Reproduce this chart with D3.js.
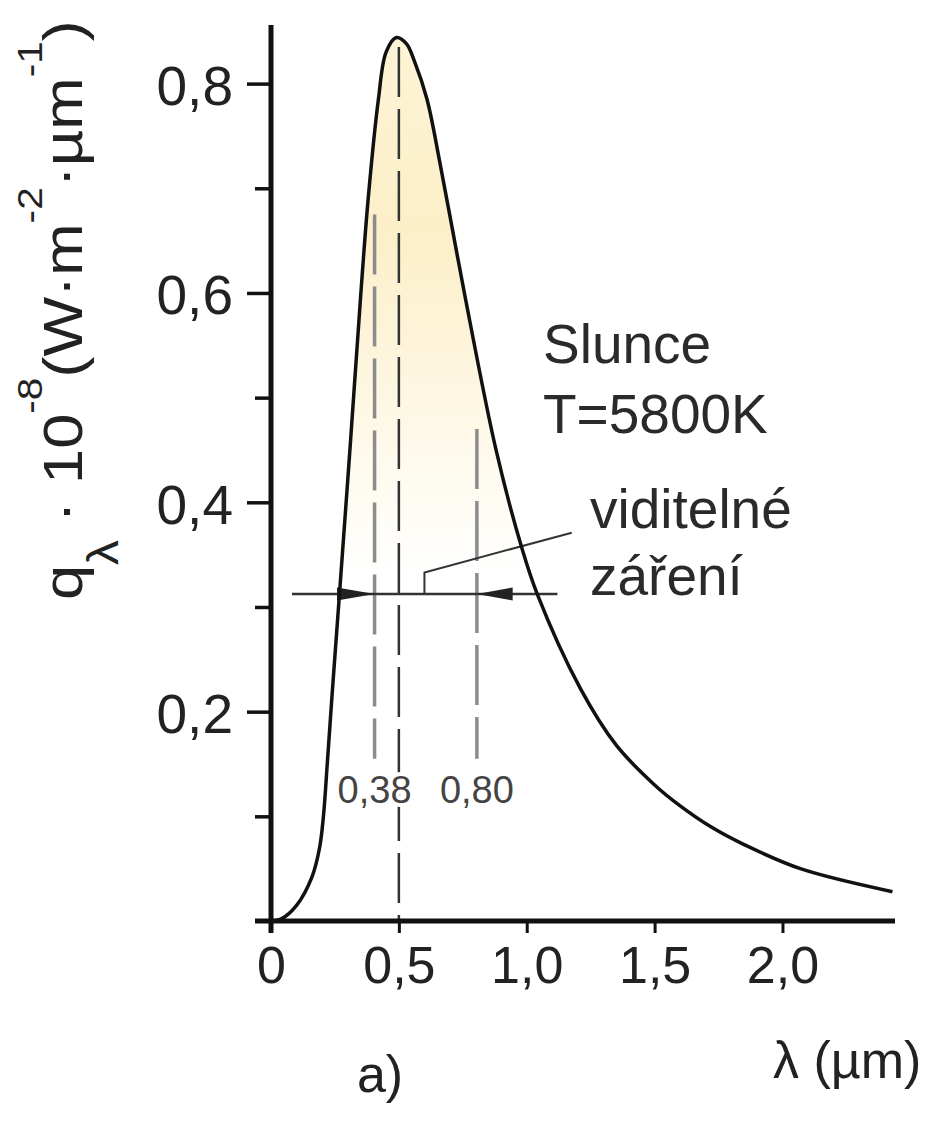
<!DOCTYPE html>
<html>
<head>
<meta charset="utf-8">
<script src="https://cdn.jsdelivr.net/npm/d3@7"></script>
<style>
  body { margin: 0; background: #fff; }
  text { font-family: "Liberation Sans", Arial, sans-serif; }
</style>
</head>
<body>
<div id="chart-area"></div>
<script>
// Spectrum of the Sun (T = 5800 K)
const lambdaUm = [0, 0.04, 0.10, 0.16, 0.19, 0.205, 0.22, 0.24, 0.27, 0.31, 0.35, 0.38, 0.42, 0.45,
                  0.49, 0.53, 0.56, 0.61, 0.66, 0.71, 0.76, 0.88, 0.98, 1.04, 1.21, 1.35, 1.50, 1.60,
                  1.72, 1.85, 2.07, 2.43];
const qLambda  = [0, 0.002, 0.015, 0.042, 0.07, 0.10, 0.15, 0.22, 0.32, 0.455, 0.595, 0.69, 0.785, 0.83,
                  0.844, 0.838, 0.822, 0.785, 0.725, 0.66, 0.595, 0.45, 0.357, 0.313, 0.222, 0.168, 0.13, 0.11,
                  0.09, 0.073, 0.050, 0.028];

const xTicks = [0, 0.5, 1.0, 1.5, 2.0];
const xTickLabels = ["0", "0,5", "1,0", "1,5", "2,0"];
const yTicks = [0.1, 0.2, 0.3, 0.4, 0.5, 0.6, 0.7, 0.8];
const yTickLabels = ["", "0,2", "", "0,4", "", "0,6", "", "0,8"];

// visible range markers (drawn position, label)
const visibleAt = [0.405, 0.805];
const visibleLabels = ["0,38", "0,80"];
const peakLambda = 0.5;
const bracketQ = 0.3125;

const width = 942, height = 1122;

const svg = d3.select("#chart-area")
  .append("svg")
    .attr("width", width)
    .attr("height", height);

const x = d3.scaleLinear().domain([0, 2.44]).range([271, 895]);
const y = d3.scaleLinear().domain([0, 0.856]).range([921, 25]);

const data = lambdaUm.map((l, i) => ({ l: l, q: qLambda[i] }));

// pale yellow fill fading downwards
const grad = svg.append("defs").append("linearGradient")
  .attr("id", "sunFill")
  .attr("gradientUnits", "userSpaceOnUse")
  .attr("x1", 0).attr("x2", 0)
  .attr("y1", y(0.84)).attr("y2", y(0.33));
grad.append("stop").attr("offset", 0).attr("stop-color", "#fdf4d6");
grad.append("stop").attr("offset", 0.35).attr("stop-color", "#fcefc8");
grad.append("stop").attr("offset", 1).attr("stop-color", "#ffffff");

const area = d3.area()
  .x(d => x(d.l))
  .y0(y(0))
  .y1(d => y(d.q))
  .curve(d3.curveCatmullRom.alpha(0.5));

svg.append("path")
  .datum(data)
  .attr("d", area)
  .attr("fill", "url(#sunFill)");

// dashed lines
svg.append("line")
  .attr("x1", x(peakLambda)).attr("x2", x(peakLambda))
  .attr("y1", y(0.835)).attr("y2", y(0))
  .attr("stroke", "#333").attr("stroke-width", 2.5)
  .attr("stroke-dasharray", "50,12");

svg.selectAll(".visLine")
  .data(visibleAt)
  .enter().append("line")
    .attr("class", "visLine")
    .attr("x1", d => x(d)).attr("x2", d => x(d))
    .attr("y1", (d, i) => i === 0 ? y(0.675) : y(0.47))
    .attr("y2", y(0.155))
    .attr("stroke", "#8c8c8c").attr("stroke-width", 3.5)
    .attr("stroke-dasharray", "60,12");

svg.selectAll(".visLabel")
  .data(visibleAt)
  .enter().append("text")
    .attr("class", "visLabel")
    .attr("x", d => x(d))
    .attr("y", y(0.113))
    .attr("text-anchor", "middle")
    .attr("font-size", 38)
    .attr("fill", "#444")
    .attr("stroke", "#fff").attr("stroke-width", 8)
    .attr("paint-order", "stroke")
    .text((d, i) => visibleLabels[i]);

// bracket for the visible radiation
svg.append("line")
  .attr("x1", x(0.082)).attr("x2", x(1.12))
  .attr("y1", y(bracketQ)).attr("y2", y(bracketQ))
  .attr("stroke", "#333").attr("stroke-width", 2.5);

const arrowHead = (tip, base, hw) =>
  [[x(tip), y(bracketQ)], [x(base), y(bracketQ) - hw], [x(base), y(bracketQ) + hw]];

svg.selectAll(".arrowHead")
  .data([arrowHead(visibleAt[0], 0.258, 6.5), arrowHead(visibleAt[1], 0.945, 6.5)])
  .enter().append("polygon")
    .attr("class", "arrowHead")
    .attr("points", d => d.join(" "))
    .attr("fill", "#222");

svg.append("polyline")
  .attr("points", [[x(0.60), y(bracketQ)], [x(0.60), y(0.333)], [x(1.176), y(0.371)]].join(" "))
  .attr("fill", "none")
  .attr("stroke", "#333").attr("stroke-width", 2);

// the curve
const line = d3.line()
  .x(d => x(d.l))
  .y(d => y(d.q))
  .curve(d3.curveCatmullRom.alpha(0.5));

svg.append("path")
  .datum(data)
  .attr("d", line)
  .attr("fill", "none")
  .attr("stroke", "#111")
  .attr("stroke-width", 3.5);

// axes
const xAxis = d3.axisBottom(x)
  .tickValues(xTicks)
  .tickFormat((d, i) => xTickLabels[i])
  .tickSize(12)
  .tickSizeOuter(0);

const gx = svg.append("g")
  .attr("transform", "translate(0," + y(0) + ")")
  .call(xAxis);
gx.select(".domain").remove();
gx.selectAll(".tick line").attr("stroke", "#111").attr("stroke-width", 3);
gx.selectAll(".tick text")
  .attr("y", 62).attr("dy", null)
  .attr("font-size", 52)
  .attr("font-family", "Liberation Sans, Arial, sans-serif")
  .attr("fill", "#222");

const yAxis = d3.axisLeft(y)
  .tickValues(yTicks)
  .tickFormat((d, i) => yTickLabels[i])
  .tickSizeOuter(0);

const gy = svg.append("g")
  .attr("transform", "translate(" + x(0) + ",0)")
  .call(yAxis);
gy.select(".domain").remove();
gy.selectAll(".tick line")
  .attr("x2", (d, i) => yTickLabels[i] ? -24 : -16)
  .attr("stroke", "#111").attr("stroke-width", 3.5);
gy.selectAll(".tick text")
  .attr("x", -38).attr("dy", "0.38em")
  .attr("font-size", 55)
  .attr("font-family", "Liberation Sans, Arial, sans-serif")
  .attr("fill", "#222");

// axis lines
svg.append("line")
  .attr("x1", x(0)).attr("x2", x(0))
  .attr("y1", y(0) + 12).attr("y2", y(0.856))
  .attr("stroke", "#111").attr("stroke-width", 5);
svg.append("line")
  .attr("x1", x(0) - 16).attr("x2", x(2.44))
  .attr("y1", y(0)).attr("y2", y(0))
  .attr("stroke", "#111").attr("stroke-width", 5);

// texts
const note = (tx, ty, s) => svg.append("text")
  .attr("x", tx).attr("y", ty)
  .attr("font-size", 55).attr("fill", "#2a2a2a")
  .text(s);
note(543, 363, "Slunce");
note(543, 433, "T=5800K");
note(590, 528, "viditelné");
note(590, 595, "záření");

svg.append("text")
  .attr("x", 380).attr("y", 1092)
  .attr("text-anchor", "middle")
  .attr("font-size", 52).attr("fill", "#222")
  .text("a)");

svg.append("text")
  .attr("x", 773).attr("y", 1078)
  .attr("font-size", 52).attr("fill", "#222")
  .text("λ (µm)");

// y axis title, rotated
const title = svg.append("text")
  .attr("font-size", 56)
  .attr("fill", "#222");
title.append("tspan").text("q");
title.append("tspan").attr("font-size", 44).attr("dy", 36).text("λ");
title.append("tspan").attr("dy", -36).text(" · 10");
title.append("tspan").attr("font-size", 36).attr("dy", -40).text("-8");
title.append("tspan").attr("dy", 40).text("(W·m");
title.append("tspan").attr("font-size", 36).attr("dy", -40).text("-2");
title.append("tspan").attr("dy", 40).text("·µm");
title.append("tspan").attr("font-size", 36).attr("dy", -40).text("-1");
title.append("tspan").attr("dy", 40).text(")");

const len = title.node().getComputedTextLength();
title.attr("transform", "translate(82,600) rotate(-90) scale(" + (580 / len) + ",1)");
</script>
</body>
</html>
